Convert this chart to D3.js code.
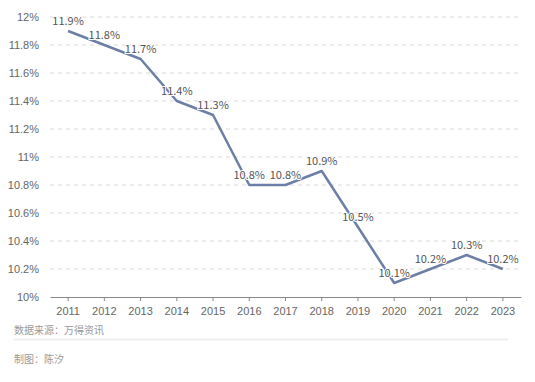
<!DOCTYPE html>
<html>
<head>
<meta charset="utf-8">
<script src="https://cdn.jsdelivr.net/npm/d3@7"></script>
<style>
  body { margin: 0; background: #fff; }
  svg { display: block; font-family: "Noto Sans CJK SC", "Noto Sans", sans-serif; }
</style>
</head>
<body>
<svg id="chart" width="535" height="382"></svg>
<script>
const years = ["2011", "2012", "2013", "2014", "2015", "2016", "2017", "2018", "2019", "2020", "2021", "2022", "2023"];
const rates = [11.9, 11.8, 11.7, 11.4, 11.3, 10.8, 10.8, 10.9, 10.5, 10.1, 10.2, 10.3, 10.2];
const yTicks = [10, 10.2, 10.4, 10.6, 10.8, 11, 11.2, 11.4, 11.6, 11.8, 12];
const sourceText = "数据来源：万得资讯";
const authorText = "制图：陈汐";

let svg = d3.select("#chart");

let x = d3.scaleBand().domain(years).range([50, 521]);
let y = d3.scaleLinear().domain([10, 12]).range([297, 17]);

// grid lines
svg.append("g")
    .selectAll("line")
    .data(yTicks.filter(d => d > 10))
    .join("line")
    .attr("x1", 50).attr("x2", 521)
    .attr("y1", d => y(d)).attr("y2", d => y(d))
    .attr("stroke", "#d9d9d9")
    .attr("stroke-dasharray", "4,4");

// y axis labels
let yAxis = svg.append("g")
    .attr("transform", "translate(42,0)")
    .call(d3.axisLeft(y).tickValues(yTicks).tickSize(0).tickFormat(d => d + "%"));
yAxis.select(".domain").remove();
yAxis.selectAll("text").attr("fill", "#666").attr("font-size", "11px").attr("font-family", null);

// x axis
let xAxis = svg.append("g")
    .attr("transform", "translate(0,297)")
    .call(d3.axisBottom(x).tickSizeInner(4).tickSizeOuter(0).tickPadding(6));
xAxis.select(".domain").attr("stroke", "#888").attr("stroke-width", 1.2);
xAxis.selectAll(".tick line").attr("stroke", "#888");
xAxis.selectAll("text").attr("fill", "#666").attr("font-size", "11px").attr("font-family", null);

let cx = d => x(d) + x.bandwidth() / 2;

// line
let line = d3.line()
    .x((d, i) => cx(years[i]))
    .y(d => y(d));

svg.append("path")
    .datum(rates)
    .attr("d", line)
    .attr("fill", "none")
    .attr("stroke", "#6d7fa6")
    .attr("stroke-width", 2.5)
    .attr("stroke-linejoin", "round");

// data labels
svg.append("g")
    .selectAll("text")
    .data(rates)
    .join("text")
    .attr("x", (d, i) => cx(years[i]))
    .attr("y", d => y(d) - 6)
    .attr("text-anchor", "middle")
    .attr("font-size", "11px")
    .attr("fill", "#555")
    .attr("stroke", "#fff")
    .attr("stroke-width", 2)
    .attr("paint-order", "stroke")
    .text(d => d + "%");

// footer
svg.append("text")
    .attr("x", 14).attr("y", 334)
    .attr("font-size", "10px")
    .attr("fill", "#999")
    .text(sourceText);

svg.append("line")
    .attr("x1", 14).attr("x2", 508)
    .attr("y1", 339.5).attr("y2", 339.5)
    .attr("stroke", "#eee")
    .attr("stroke-width", 2);

svg.append("text")
    .attr("x", 14).attr("y", 363)
    .attr("font-size", "10px")
    .attr("fill", "#999")
    .text(authorText);
</script>
</body>
</html>
